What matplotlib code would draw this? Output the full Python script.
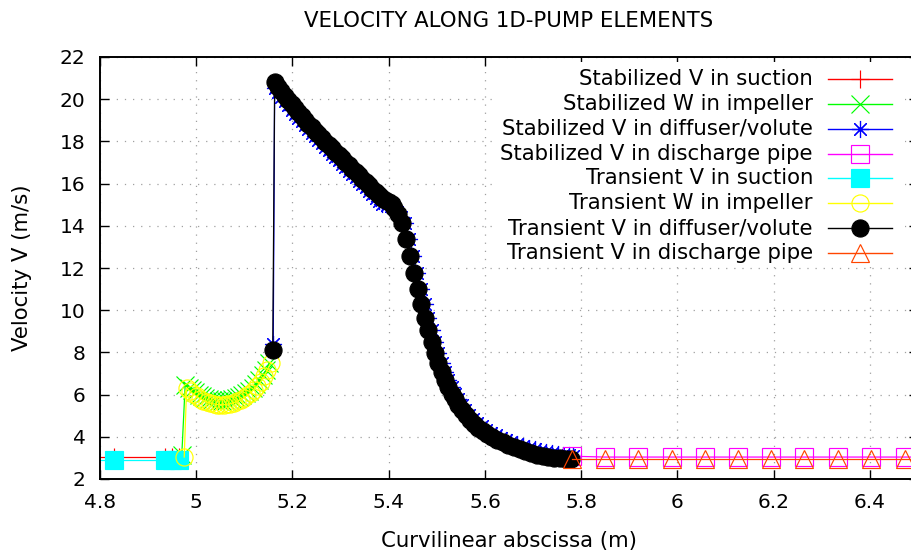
import matplotlib
matplotlib.use("Agg")
import matplotlib.pyplot as plt
from matplotlib.lines import Line2D
from matplotlib.patches import Rectangle

# ─── data ────────────────────────────────────────────────────────────────────
SUC_X = [4.723, 4.829, 4.935, 4.950, 4.965]
SUC_V_STAB = [3.02, 3.02, 3.02, 3.02, 3.02]
SUC_V_TRANS = [2.88, 2.88, 2.88, 2.88, 2.88]

IMP_X_STAB = [4.970, 4.977, 4.984, 4.991, 4.998, 5.005, 5.012, 5.019, 5.026,
              5.033, 5.040, 5.047, 5.054, 5.061, 5.068, 5.075, 5.082, 5.089,
              5.096, 5.103, 5.110, 5.117, 5.124, 5.131, 5.138, 5.145, 5.152]
IMP_W_STAB = [3.15, 6.45, 6.33, 6.21, 6.10, 6.00, 5.92, 5.85, 5.79,
              5.75, 5.72, 5.70, 5.70, 5.71, 5.73, 5.77, 5.82, 5.89,
              5.97, 6.07, 6.19, 6.33, 6.50, 6.69, 6.91, 7.17, 7.48]
IMP_X_TRANS = [4.975, 4.980, 4.987, 4.994, 5.001, 5.008, 5.015, 5.022, 5.029,
               5.036, 5.043, 5.050, 5.057, 5.064, 5.071, 5.078, 5.085, 5.092,
               5.099, 5.106, 5.113, 5.120, 5.127, 5.134, 5.141, 5.148, 5.155]
IMP_W_TRANS = [3.04, 6.30, 6.16, 6.03, 5.91, 5.81, 5.72, 5.65, 5.60,
               5.56, 5.53, 5.52, 5.52, 5.54, 5.57, 5.62, 5.68, 5.76,
               5.85, 5.96, 6.09, 6.24, 6.42, 6.62, 6.86, 7.15, 7.52]

DIF_X_TRANS = [5.159, 5.163, 5.170, 5.177, 5.184, 5.191, 5.198, 5.205, 5.212,
               5.219, 5.226, 5.233, 5.240, 5.247, 5.254, 5.261, 5.268, 5.275,
               5.282, 5.289, 5.296, 5.303, 5.310, 5.317, 5.324, 5.331, 5.338,
               5.345, 5.352, 5.359, 5.366, 5.373, 5.380, 5.387, 5.393, 5.400,
               5.406, 5.412, 5.419, 5.427, 5.436, 5.444, 5.452, 5.460, 5.468,
               5.475, 5.482, 5.489, 5.496, 5.503, 5.510, 5.517, 5.524, 5.531,
               5.538, 5.545, 5.552, 5.560, 5.568, 5.577, 5.586, 5.595, 5.605,
               5.615, 5.626, 5.637, 5.648, 5.660, 5.672, 5.684, 5.696, 5.708,
               5.720, 5.732, 5.744, 5.756, 5.768, 5.778]
DIF_V_TRANS = [8.10, 20.80, 20.58, 20.37, 20.16, 19.96, 19.76, 19.57, 19.38,
               19.20, 19.02, 18.84, 18.67, 18.50, 18.33, 18.16, 17.99, 17.83,
               17.67, 17.51, 17.35, 17.19, 17.03, 16.87, 16.71, 16.55, 16.39,
               16.23, 16.07, 15.91, 15.75, 15.59, 15.44, 15.30, 15.20, 15.15,
               15.05, 14.85, 14.55, 14.13, 13.37, 12.57, 11.75, 11.00, 10.30,
               9.63, 9.05, 8.50, 7.97, 7.50, 7.07, 6.68, 6.34, 6.05,
               5.78, 5.53, 5.25, 5.02, 4.80, 4.60, 4.42, 4.26, 4.11,
               3.98, 3.85, 3.74, 3.63, 3.52, 3.42, 3.33, 3.24, 3.16,
               3.10, 3.05, 3.01, 2.98, 2.96, 2.95]
DIF_X_STAB = [5.160, 5.163, 5.170, 5.177, 5.184, 5.191, 5.198, 5.205, 5.212,
              5.219, 5.226, 5.233, 5.240, 5.247, 5.254, 5.261, 5.268, 5.275,
              5.282, 5.289, 5.296, 5.303, 5.310, 5.317, 5.324, 5.331, 5.338,
              5.345, 5.352, 5.359, 5.366, 5.373, 5.380, 5.387, 5.396, 5.404,
              5.411, 5.417, 5.425, 5.434, 5.443, 5.451, 5.459, 5.467, 5.475,
              5.482, 5.489, 5.496, 5.503, 5.510, 5.517, 5.524, 5.531, 5.538,
              5.545, 5.552, 5.559, 5.567, 5.575, 5.584, 5.593, 5.602, 5.612,
              5.622, 5.633, 5.644, 5.655, 5.667, 5.679, 5.691, 5.703, 5.715,
              5.727, 5.739, 5.751, 5.763, 5.775, 5.782]
DIF_V_STAB = [8.40, 20.55, 20.33, 20.12, 19.91, 19.71, 19.51, 19.32, 19.13,
              18.95, 18.77, 18.59, 18.42, 18.25, 18.08, 17.91, 17.74, 17.58,
              17.42, 17.26, 17.10, 16.94, 16.78, 16.62, 16.46, 16.30, 16.14,
              15.98, 15.82, 15.66, 15.50, 15.34, 15.19, 15.05, 15.00, 14.95,
              14.85, 14.65, 14.40, 14.13, 13.37, 12.57, 11.75, 11.00, 10.30,
              9.63, 9.05, 8.50, 7.97, 7.50, 7.07, 6.68, 6.34, 6.05,
              5.78, 5.53, 5.25, 5.05, 4.85, 4.66, 4.49, 4.34, 4.20,
              4.08, 3.96, 3.85, 3.75, 3.65, 3.56, 3.48, 3.40, 3.33,
              3.27, 3.22, 3.17, 3.14, 3.12, 3.10]

DIS_X = [5.780, 5.849, 5.918, 5.988, 6.057, 6.126, 6.195, 6.264, 6.334,
         6.403, 6.472, 6.541]
DIS_V_STAB = [3.08, 3.04, 3.04, 3.04, 3.04, 3.04, 3.04, 3.04, 3.04,
              3.04, 3.04, 3.04]
DIS_V_TRANS = [2.93, 2.93, 2.93, 2.93, 2.93, 2.93, 2.93, 2.93, 2.93,
               2.93, 2.93, 2.93]

X_TICKS = [4.8, 5.0, 5.2, 5.4, 5.6, 5.8, 6.0, 6.2, 6.4]
X_TICK_LABELS = ["4.8", "5", "5.2", "5.4", "5.6", "5.8", "6", "6.2", "6.4"]
Y_TICKS = [2, 4, 6, 8, 10, 12, 14, 16, 18, 20, 22]

# label, x, y, color, marker, filled
SERIES = [
    ("Stabilized V in suction",          SUC_X,       SUC_V_STAB,  "#ff0000", "+",       True),
    ("Stabilized W in impeller",         IMP_X_STAB,  IMP_W_STAB,  "#00ff00", "x",       True),
    ("Stabilized V in diffuser/volute",  DIF_X_STAB,  DIF_V_STAB,  "#0000ff", (8, 2, 0), True),
    ("Stabilized V in discharge pipe",   DIS_X,       DIS_V_STAB,  "#ff00ff", "s",       False),
    ("Transient V in suction",           SUC_X,       SUC_V_TRANS, "#00ffff", "s",       True),
    ("Transient W in impeller",          IMP_X_TRANS, IMP_W_TRANS, "#ffff00", "o",       False),
    ("Transient V in diffuser/volute",   DIF_X_TRANS, DIF_V_TRANS, "#000000", "o",       True),
    ("Transient V in discharge pipe",    DIS_X,       DIS_V_TRANS, "#ff4500", "^",       False),
]

W, H = 912, 552
FS = 15.3


def fig_xy(px, py):
    """pixel position (from top-left) -> figure fraction"""
    return px / W, 1 - py / H


def style(color, marker, filled):
    return dict(color=color, marker=marker, markersize=12.3, markeredgewidth=0.85,
                markeredgecolor=color, markerfacecolor=color if filled else "none",
                linewidth=0.9)


fig = plt.figure(figsize=(W / 100, H / 100), dpi=100)
ax = fig.add_axes([100 / W, 73 / H, 818 / W, 422 / H])

for label, xs, ys, color, marker, filled in SERIES:
    ax.plot(xs, ys, label=label, **style(color, marker, filled))

ax.set_xlim(4.8, 6.5)
ax.set_ylim(2, 22)
ax.set_xticks(X_TICKS)
ax.set_xticklabels(X_TICK_LABELS)
ax.set_yticks(Y_TICKS)
ax.tick_params(direction="in", length=6.5, width=1.0, top=True, right=True,
               labelsize=14.5, color="black")
ax.tick_params(axis="x", pad=10)
ax.tick_params(axis="y", pad=10.5)
for sp in ax.spines.values():
    sp.set_linewidth(1.4)

ax.set_axisbelow(True)
ax.grid(True, color="#a0a0a0", linestyle=(0, (1, 5.5)), linewidth=0.9)

ax.set_xlabel("Curvilinear abscissa (m)", fontsize=FS, va="center")
ax.xaxis.set_label_coords(0.5, (479 - 541) / 422)
ax.set_ylabel("Velocity V (m/s)", fontsize=FS, ha="center", va="center")
ax.yaxis.set_label_coords((22 - 100) / 818, 0.5)

tx, ty = fig_xy(509, 21)
fig.text(tx, ty, "VELOCITY ALONG 1D-PUMP ELEMENTS", fontsize=FS,
         ha="center", va="center")

# ─── gnuplot-style key: opaque box, text right aligned, sample on the right ──
bx0, by0 = fig_xy(495, 266)
bx1, by1 = fig_xy(905, 62)
fig.patches.append(Rectangle((bx0, by0), bx1 - bx0, by1 - by0, transform=fig.transFigure,
                             facecolor="white", edgecolor="none", zorder=1))
for i, (label, xs, ys, color, marker, filled) in enumerate(SERIES):
    py = 79 + 24.85 * i
    lx, ly = fig_xy(813, py)
    fig.text(lx, ly, label, fontsize=FS, ha="right", va="center", zorder=2)
    x0, _ = fig_xy(828, py)
    x1, _ = fig_xy(892, py)
    xm, _ = fig_xy(860, py)
    kw = style(color, marker, filled)
    fig.lines.append(Line2D([x0, x1], [ly, ly], transform=fig.transFigure, color=color,
                            linewidth=1.0, zorder=2))
    kw.pop("linewidth")
    fig.lines.append(Line2D([xm], [ly], transform=fig.transFigure, linestyle="none",
                            zorder=2, **kw))

fig.savefig("out.png", dpi=100)
